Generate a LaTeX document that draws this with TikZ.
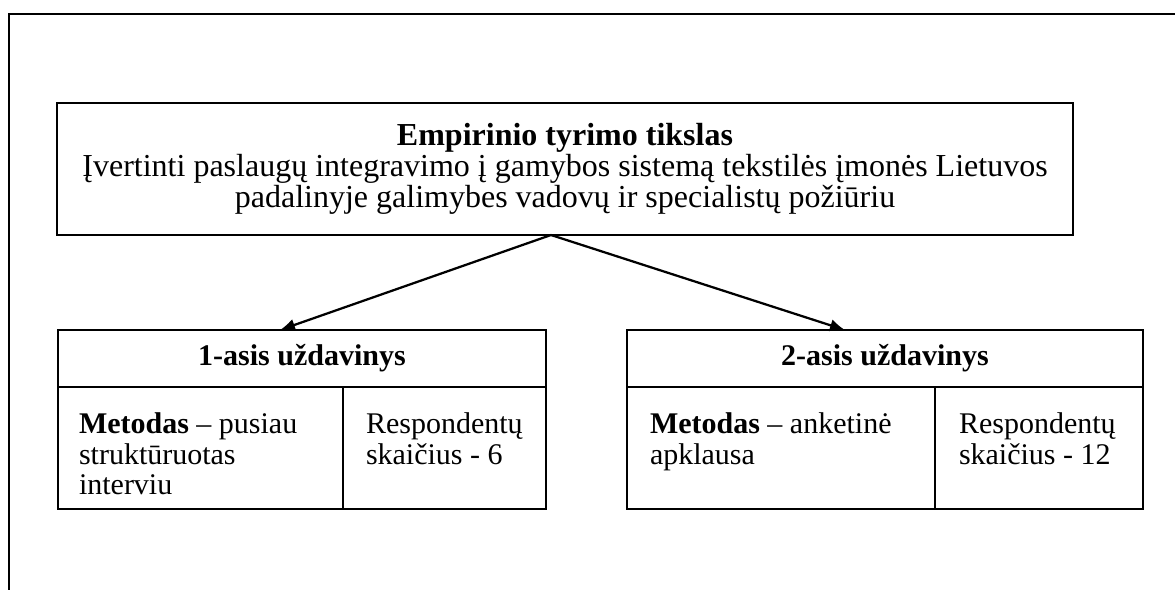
\documentclass[tikz,border=0pt]{standalone}
\usepackage{fontspec}
\setmainfont{Liberation Serif}
\usetikzlibrary{arrows.meta,calc}
\begin{document}
\begin{tikzpicture}[x=0.4pt,y=-0.4pt,
  line width=0.8pt,
  txt/.style={font=\fontsize{12}{12.2}\selectfont},
  bigtxt/.style={font=\fontsize{12.8}{12.4}\selectfont},
  box/.style={draw, inner sep=0pt, outer sep=0pt, anchor=north west, txt},
  celltext/.style={inner sep=0pt, anchor=north west, align=left, txt},
  link/.style={-{Latex[length=6pt,width=5pt]}, line width=0.9pt}
]
\useasboundingbox (0,0) rectangle (1175,589);

% page frame (only its top and left edges fall inside the picture)
\coordinate (frameTop) at (1180,14);
\coordinate (frameCorner) at (9,14);
\coordinate (frameBottom) at (9,595);
\draw[line width=0.9pt] (frameTop) -- (frameCorner) -- (frameBottom);

% aim of the study
\node[box, bigtxt, minimum width=406.4pt, minimum height=52.8pt, align=center] (goal) at (57,103)
  {\textbf{Empirinio tyrimo tikslas}\\
   Įvertinti paslaugų integravimo į gamybos sistemą tekstilės įmonės Lietuvos\\
   padalinyje galimybes vadovų ir specialistų požiūriu};

% task 1
\node[box, minimum width=195.2pt, minimum height=22.8pt] (h1) at (58,330) {\textbf{1-asis uždavinys}};
\node[box, minimum width=114pt, minimum height=48.8pt] (m1) at (58,387) {};
\node[box, minimum width=81.2pt, minimum height=48.8pt] (r1) at (343,387) {};
\node[celltext] (m1t) at ($(m1.north west)+(20,25)$)
  {\textbf{Metodas} – pusiau\\ struktūruotas\\ interviu};
\node[celltext] (r1t) at ($(r1.north west)+(22,25)$)
  {Respondentų\\ skaičius - 6};

% task 2
\node[box, minimum width=206.4pt, minimum height=22.8pt] (h2) at (627,330) {\textbf{2-asis uždavinys}};
\node[box, minimum width=123.2pt, minimum height=48.8pt] (m2) at (627,387) {};
\node[box, minimum width=83.2pt, minimum height=48.8pt] (r2) at (935,387) {};
\node[celltext] (m2t) at ($(m2.north west)+(22,25)$)
  {\textbf{Metodas} – anketinė\\ apklausa};
\node[celltext] (r2t) at ($(r2.north west)+(23,25)$)
  {Respondentų\\ skaičius - 12};

% arrows from the aim to both tasks
\coordinate (split) at (551,235);
\coordinate (tip1) at (280,330);
\coordinate (tip2) at (845,330);
\draw[link] (split) -- (tip1);
\draw[link] (split) -- (tip2);
\end{tikzpicture}
\end{document}
